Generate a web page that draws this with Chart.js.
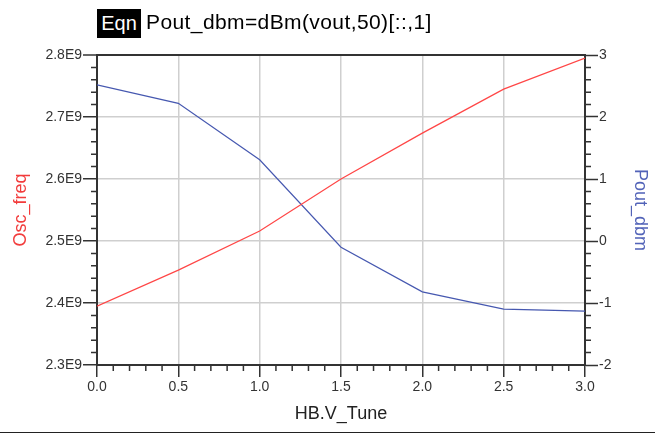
<!DOCTYPE html>
<html>
<head>
<meta charset="utf-8">
<script src="https://cdn.jsdelivr.net/npm/chart.js@4/dist/chart.umd.min.js"></script>
<style>
  html, body { margin: 0; padding: 0; background: #fff; }
  #wrap { position: relative; width: 655px; height: 433px; overflow: hidden; }
  #chart { position: absolute; left: 0; top: 0; }
  .eqn-tag { position: absolute; left: 97px; top: 9px; width: 44px; height: 29px; background: #000; color: #fff;
             font: 20px "Liberation Sans", Arial, sans-serif; line-height: 29px; text-align: center; }
  .eqn-text { position: absolute; left: 146px; top: 7px; color: #000;
              font: 21px "Liberation Sans", Arial, sans-serif; line-height: 30px; letter-spacing: 0.4px; }
  .baseline { position: absolute; left: 0; right: 0; bottom: 0; height: 1px; background: #222; }
</style>
</head>
<body>
<div id="wrap">
  <canvas id="chart" width="655" height="433"></canvas>
  <div class="eqn-tag">Eqn</div>
  <div class="eqn-text">Pout_dbm=dBm(vout,50)[::,1]</div>
  <div class="baseline"></div>
</div>
<script>
// HB.V_Tune sweep points
const vTune = [0, 0.5, 1.0, 1.5, 2.0, 2.5, 3.0];
// left axis: Osc_freq (Hz)
const oscFreq = [2.395e9, 2.453e9, 2.516e9, 2.600e9, 2.674e9, 2.745e9, 2.795e9];
// right axis: Pout_dbm
const poutDbm = [2.52, 2.22, 1.31, -0.10, -0.82, -1.10, -1.13];

const freqTicks = [2.3e9, 2.4e9, 2.5e9, 2.6e9, 2.7e9, 2.8e9];
const dbmTicks = [-2, -1, 0, 1, 2, 3];

const axisColor = '#333';
const gridColor = '#cfcfcf';

Chart.defaults.font.family = '"Liberation Sans", Arial, sans-serif';
Chart.defaults.font.size = 14;
Chart.defaults.color = axisColor;

// ADS style minor tick marks, drawn through the scales
const minorTicks = {
    id: 'minorTicks',
    afterDraw(chart) {
        const { ctx } = chart;
        const { x, y, y2 } = chart.scales;
        ctx.save();
        ctx.strokeStyle = axisColor;
        ctx.lineWidth = 1.5;
        ctx.beginPath();
        for (let i = 1; i < 30; i++) {
            if (i % 5 === 0) continue;
            const px = x.getPixelForValue(i / 10);
            ctx.moveTo(px, x.top);
            ctx.lineTo(px, x.top + 6);
        }
        for (let i = 1; i < 25; i++) {
            if (i % 5 === 0) continue;
            const py = y.getPixelForValue(freqTicks[0] + i * 0.02e9);
            ctx.moveTo(y.right, py);
            ctx.lineTo(y.right - 6, py);
        }
        for (let i = 1; i < 25; i++) {
            if (i % 5 === 0) continue;
            const py = y2.getPixelForValue(dbmTicks[0] + i * 0.2);
            ctx.moveTo(y2.left, py);
            ctx.lineTo(y2.left + 6, py);
        }
        ctx.stroke();
        ctx.restore();
    }
};

const near = (a, b, eps) => Math.abs(a - b) < eps;

const chart = new Chart(document.getElementById('chart'), {
    type: 'line',
    data: {
        datasets: [{
            label: 'Osc_freq',
            data: vTune.map((v, i) => ({ x: v, y: oscFreq[i] })),
            borderColor: '#ff4646',
            borderWidth: 1.2,
            pointRadius: 0,
            tension: 0,
            yAxisID: 'y'
        }, {
            label: 'Pout_dbm',
            data: vTune.map((v, i) => ({ x: v, y: poutDbm[i] })),
            borderColor: '#4658b0',
            borderWidth: 1.2,
            pointRadius: 0,
            tension: 0,
            yAxisID: 'y2'
        }]
    },
    options: {
        responsive: false,
        animation: false,
        layout: { padding: { top: 55, left: 0, right: 0, bottom: 0 } },
        plugins: { legend: { display: false }, tooltip: { enabled: false } },
        scales: {
            x: {
                type: 'linear',
                min: vTune[0],
                max: vTune[vTune.length - 1],
                afterFit: s => { s.height = 68; },
                ticks: { stepSize: 0.5, padding: 2, maxRotation: 0, callback: v => v.toFixed(1) },
                grid: {
                    color: c => (near(c.tick.value, 0, 1e-6) || near(c.tick.value, 3, 1e-6)) ? 'rgba(0,0,0,0)' : gridColor,
                    lineWidth: 1.5,
                    tickLength: 12,
                    tickColor: axisColor,
                    tickWidth: 1.5
                },
                border: { color: axisColor, width: 2 },
                title: {
                    display: true,
                    text: 'HB.V_Tune',
                    font: { size: 18 },
                    color: '#222',
                    padding: { top: 0, bottom: 8 }
                }
            },
            y: {
                position: 'left',
                min: freqTicks[0],
                max: freqTicks[freqTicks.length - 1],
                afterFit: s => { s.width = 97; },
                ticks: { stepSize: 0.1e9, padding: 1, autoSkip: false, callback: v => (v / 1e9).toFixed(1) + 'E9' },
                grid: {
                    color: c => near(c.tick.value, 2.8e9, 1e3) ? axisColor : (near(c.tick.value, 2.3e9, 1e3) ? 'rgba(0,0,0,0)' : gridColor),
                    lineWidth: c => near(c.tick.value, 2.8e9, 1e3) ? 2 : 1.5,
                    tickLength: 14,
                    tickColor: axisColor,
                    tickWidth: 1.5
                },
                border: { color: axisColor, width: 2 },
                title: {
                    display: true,
                    text: 'Osc_freq',
                    font: { size: 18 },
                    color: '#f23c3c',
                    padding: { top: 10, bottom: 0 }
                }
            },
            y2: {
                position: 'right',
                min: dbmTicks[0],
                max: dbmTicks[dbmTicks.length - 1],
                afterFit: s => { s.width = 70; },
                ticks: { stepSize: 1, padding: 1, autoSkip: false },
                grid: {
                    drawOnChartArea: false,
                    tickLength: 13,
                    tickColor: axisColor,
                    tickWidth: 1.5
                },
                border: { color: axisColor, width: 2 },
                title: {
                    display: true,
                    text: 'Pout_dbm',
                    font: { size: 18 },
                    color: '#5263b8',
                    padding: { top: 4, bottom: 0 }
                }
            }
        }
    },
    plugins: [minorTicks]
});
</script>
</body>
</html>
